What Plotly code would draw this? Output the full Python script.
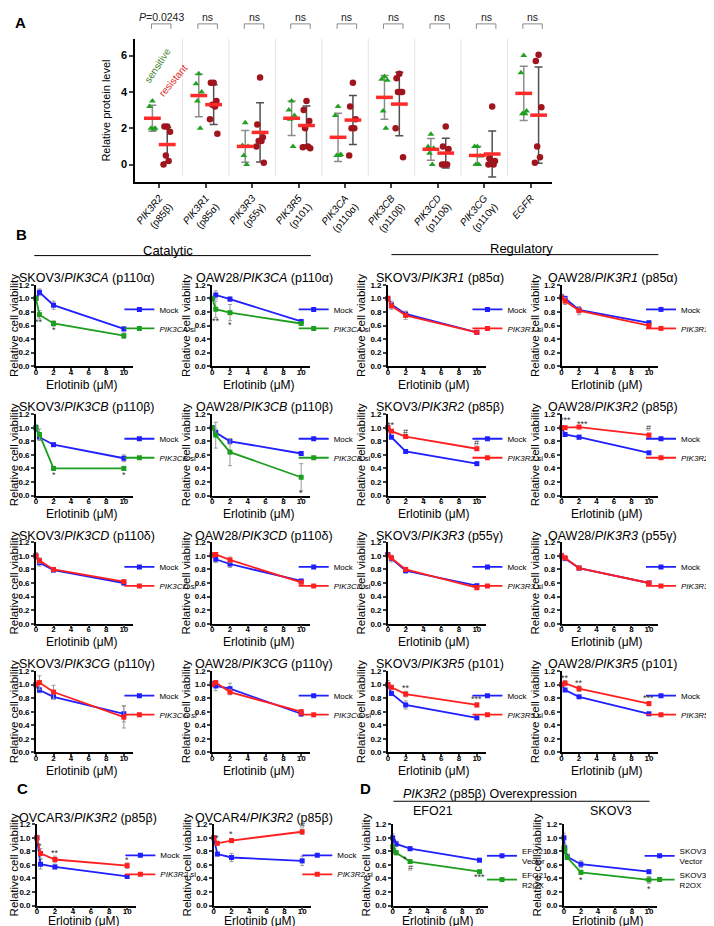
import plotly.graph_objects as go

FONT = "Liberation Sans, Arial, sans-serif"
W, H = 714, 926

# ---------------- Panel A data ----------------
a_genes = ["PIK3R2", "PIK3R1", "PIK3R3", "PIK3R5", "PIK3CA", "PIK3CB", "PIK3CD", "PIK3CG", "EGFR"]
a_proteins = ["p85β", "p85α", "p55γ", "p101", "p110α", "p110β", "p110δ", "p110γ", ""]
a_sens_points = [
    [3.5, 3.2, 2.0, 2.0, 1.95],
    [5.0, 4.45, 4.0, 3.5, 2.0],
    [2.3, 1.05, 1.0, 0.5, 0.0],
    [3.5, 3.0, 2.7, 2.5, 1.0],
    [3.2, 2.7, 0.55, 0.5, 0.5],
    [4.85, 4.7, 4.65, 2.95, 2.0],
    [1.67, 0.98, 0.9, 0.62, 0.0],
    [1.0, 1.0, 0.47, 0.0, 0.0],
    [6.0, 5.05, 2.95, 2.8, 2.8],
]
a_res_points = [
    [2.1, 2.1, 1.8, 0.5, 0.2, 0.0],
    [4.5, 4.5, 3.5, 3.3, 3.2, 2.5, 1.7],
    [4.8, 2.2, 1.5, 1.3, 1.3, 1.0, 0.1],
    [3.5, 3.0, 2.4, 2.0, 1.0, 0.95, 0.9],
    [4.5, 3.2, 2.5, 2.0, 2.0, 0.5],
    [5.0, 4.75, 4.0, 4.0, 4.0, 2.0, 0.4],
    [2.1, 1.0, 0.85, 0.0, 0.0, 0.0],
    [3.2, 0.35, 0.2, 0.05, 0.0, 0.0],
    [6.05, 5.7, 3.15, 1.0, 0.4, 0.1],
]
a_sens_mean = [2.55, 3.8, 1.0, 2.55, 1.5, 3.7, 0.84, 0.5, 3.92]
a_sens_sd = [0.71, 1.17, 0.87, 0.95, 1.33, 1.2, 0.6, 0.5, 1.5]
a_res_mean = [1.1, 3.3, 1.77, 2.15, 2.45, 3.33, 0.63, 0.58, 2.72]
a_res_sd = [0.95, 1.1, 1.63, 1.07, 1.35, 1.75, 0.82, 1.27, 2.65]
a_pvals = ["<i>P</i>=0.0243", "ns", "ns", "ns", "ns", "ns", "ns", "ns", "ns"]

# ---------------- Panels B / C / D data ----------------
doses = [0, 0.4, 2, 10]
doses_oe = [0, 0.1, 0.4, 2, 10]

kd_titles = [
    "SKOV3/<i>PIK3CA</i> (p110α)", "OAW28/<i>PIK3CA</i> (p110α)", "SKOV3/<i>PIK3R1</i> (p85α)", "OAW28/<i>PIK3R1</i> (p85α)",
    "SKOV3/<i>PIK3CB</i> (p110β)", "OAW28/<i>PIK3CB</i> (p110β)", "SKOV3/<i>PIK3R2</i> (p85β)", "OAW28/<i>PIK3R2</i> (p85β)",
    "SKOV3/<i>PIK3CD</i> (p110δ)", "OAW28/<i>PIK3CD</i> (p110δ)", "SKOV3/<i>PIK3R3</i> (p55γ)", "OAW28/<i>PIK3R3</i> (p55γ)",
    "SKOV3/<i>PIK3CG</i> (p110γ)", "OAW28/<i>PIK3CG</i> (p110γ)", "SKOV3/<i>PIK3R5</i> (p101)", "OAW28/<i>PIK3R5</i> (p101)",
    "OVCAR3/<i>PIK3R2</i> (p85β)", "OVCAR4/<i>PIK3R2</i> (p85β)",
]
kd_si_names = [
    "<i>PIK3CA</i> si", "<i>PIK3CA</i> si", "<i>PIK3R1</i> si", "<i>PIK3R1</i> si",
    "<i>PIK3CB</i> si", "<i>PIK3CB</i> si", "<i>PIK3R2</i> si", "<i>PIK3R2</i> si",
    "<i>PIK3CD si</i>", "<i>PIK3CD</i> si", "<i>PIK3R3</i> si", "<i>PIK3R3</i> si",
    "<i>PIK3CG si</i>", "<i>PIK3CG</i> si", "<i>PIK3R5</i> si", "<i>PIK3R5</i> si",
    "<i>PIK3R2</i> si", "<i>PIK3R2</i> si",
]
kd_si_kind = ["g", "g", "r", "r", "g", "g", "r", "r", "r", "r", "r", "r", "r", "r", "r", "r", "r", "r"]
kd_mock = [
    [1.0, 1.09, 0.90, 0.55], [1.0, 1.05, 0.99, 0.66], [1.0, 0.91, 0.77, 0.50], [1.02, 1.0, 0.83, 0.64],
    [1.0, 0.86, 0.75, 0.55], [1.0, 0.93, 0.80, 0.62], [1.0, 0.86, 0.65, 0.47], [1.0, 0.90, 0.86, 0.63],
    [1.0, 0.90, 0.79, 0.60], [1.01, 0.95, 0.88, 0.63], [1.02, 0.96, 0.78, 0.56], [1.0, 0.96, 0.82, 0.60],
    [1.0, 0.92, 0.82, 0.57], [1.01, 0.98, 0.94, 0.57], [1.0, 0.87, 0.70, 0.51], [1.0, 0.92, 0.82, 0.57],
    [1.0, 0.61, 0.57, 0.43], [1.0, 0.76, 0.71, 0.66],
]
kd_mock_err = [
    [0.02, 0.05, 0.06, 0.03], [0.02, 0.06, 0.03, 0.02], [0.03, 0.05, 0.04, 0.02], [0.04, 0.03, 0.04, 0.03],
    [0.05, 0.05, 0.01, 0.05], [0.02, 0.05, 0.04, 0.03], [0.02, 0.02, 0.01, 0.01], [0.02, 0.02, 0.03, 0.01],
    [0.05, 0.05, 0.02, 0.03], [0.04, 0.05, 0.05, 0.01], [0.03, 0.05, 0.03, 0.02], [0.04, 0.03, 0.01, 0.01],
    [0.05, 0.04, 0.03, 0.12], [0.04, 0.07, 0.08, 0.04], [0.06, 0.03, 0.06, 0.01], [0.02, 0.01, 0.01, 0.01],
    [0.04, 0.07, 0.03, 0.02], [0.03, 0.02, 0.06, 0.07],
]
kd_si = [
    [1.0, 0.76, 0.63, 0.45], [1.0, 0.84, 0.79, 0.63], [1.0, 0.89, 0.75, 0.50], [1.01, 0.96, 0.82, 0.60],
    [1.0, 0.90, 0.40, 0.40], [1.0, 0.89, 0.64, 0.27], [1.0, 0.95, 0.87, 0.69], [1.0, 1.0, 1.01, 0.89],
    [1.0, 0.93, 0.80, 0.62], [1.01, 1.02, 0.94, 0.61], [1.01, 0.97, 0.80, 0.53], [1.0, 0.97, 0.82, 0.60],
    [1.0, 1.03, 0.89, 0.52], [1.0, 1.03, 0.89, 0.60], [1.0, 0.96, 0.86, 0.70], [1.0, 1.02, 0.94, 0.72],
    [1.0, 0.77, 0.68, 0.59], [1.0, 0.92, 0.96, 1.09],
]
kd_si_err = [
    [0.02, 0.06, 0.04, 0.04], [0.02, 0.12, 0.12, 0.02], [0.03, 0.05, 0.06, 0.02], [0.03, 0.05, 0.06, 0.03],
    [0.02, 0.08, 0.01, 0.01], [0.02, 0.19, 0.20, 0.20], [0.02, 0.02, 0.02, 0.02], [0.02, 0.02, 0.01, 0.03],
    [0.03, 0.04, 0.02, 0.02], [0.03, 0.03, 0.04, 0.01], [0.03, 0.03, 0.02, 0.02], [0.03, 0.03, 0.01, 0.01],
    [0.03, 0.10, 0.10, 0.16], [0.03, 0.03, 0.04, 0.03], [0.03, 0.03, 0.04, 0.03], [0.02, 0.04, 0.04, 0.03],
    [0.03, 0.07, 0.05, 0.04], [0.03, 0.02, 0.03, 0.04],
]
kd_sig = [
    [(0.4, 0.65, "**"), (2, 0.53, "*")], [(0.4, 0.66, "**"), (2, 0.61, "*")], [], [],
    [(2, 0.31, "*"), (10, 0.31, "*")], [(10, 0.04, "*")],
    [(0.4, 1.04, "**"), (2, 0.93, "#"), (10, 0.77, "#")], [(0.4, 1.11, "***"), (2.4, 1.06, "***"), (10, 1.0, "#")],
    [], [], [], [],
    [], [], [(2, 0.95, "**"), (10, 0.79, "***")], [(0.4, 1.1, "**"), (2, 1.02, "**"), (10, 0.8, "***")],
    [(0.4, 0.88, "*"), (2, 0.77, "**"), (10, 0.67, "*")], [(0.4, 1.0, "*"), (2, 1.05, "*"), (10, 1.19, "#")],
]

oe_titles = ["EFO21", "SKOV3"]
oe_vec_names = ["EFO21<br>Vector", "SKOV3<br>Vector"]
oe_ox_names = ["EFO21<br>R2OX", "SKOV3<br>R2OX"]
oe_vector = [[1.0, 0.94, 0.91, 0.84, 0.67], [1.0, 0.85, 0.72, 0.61, 0.50]]
oe_vector_err = [[0.06, 0.04, 0.04, 0.03, 0.02], [0.07, 0.05, 0.04, 0.05, 0.01]]
oe_r2ox = [[0.87, 0.81, 0.78, 0.65, 0.50], [0.85, 0.80, 0.71, 0.49, 0.38]]
oe_r2ox_err = [[0.05, 0.04, 0.03, 0.02, 0.01], [0.05, 0.04, 0.03, 0.03, 0.05]]
oe_sig = [[(1.4, 0.69, "*"), (2, 0.55, "#"), (10, 0.42, "***")], [(2, 0.37, "*"), (10, 0.24, "*")]]

# ---------------- styling ----------------
BLUE = "#1f1fff"
RED = "#ff1f1f"
GREEN = "#1e9e1e"
ERRC = "#9a9a9a"


def fx(p):
    return p / W


def fy(p):
    return 1 - p / H


fig = go.Figure()
layout = {}
annotations = []
shapes = []


def ann_px(px, py, text, size=12, color="black", bold=False, angle=0, xanchor="center", yanchor="middle"):
    annotations.append(dict(x=fx(px), y=fy(py), xref="paper", yref="paper", text=("<b>%s</b>" % text) if bold else text,
                            showarrow=False, textangle=angle, xanchor=xanchor, yanchor=yanchor,
                            font=dict(size=size, color=color, family=FONT)))


# ---------------- Panel A ----------------
JIT = [0.0, -0.06, 0.06, -0.03, 0.03, -0.08, 0.08]
OFF_S, OFF_R = -0.15, 0.17
layout["xaxis"] = dict(domain=[fx(129), fx(558)], range=[-0.52, 8.45], anchor="y",
                       tickvals=list(range(len(a_genes))),
                       ticktext=[("<i>%s</i><br>(%s)" % (g, p)) if p else "<i>%s</i>" % g for g, p in zip(a_genes, a_proteins)],
                       tickangle=-50, ticks="outside", ticklen=4, tickwidth=2, showline=True, linewidth=2,
                       linecolor="black", showgrid=False, zeroline=False, tickfont=dict(size=10, family=FONT))
layout["yaxis"] = dict(domain=[fy(172), fy(27)], range=[-0.98, 6.93], anchor="x", tickvals=[0, 2, 4, 6],
                       ticks="outside", ticklen=4, tickwidth=2, showline=True, linewidth=2, linecolor="black",
                       showgrid=False, zeroline=False, tickfont=dict(size=11, family=FONT, weight="bold"),
                       title=dict(text="Relative protein level", font=dict(size=11, family=FONT), standoff=8))

for i in range(len(a_genes)):
    if i > 0:
        shapes.append(dict(type="line", xref="x", yref="y", x0=i - 0.5, x1=i - 0.5, y0=-0.6, y1=6.93,
                           line=dict(color="#e2e2e2", width=1)))
    shapes.append(dict(type="path", xref="x", yref="paper",
                       path="M %f,%f L %f,%f L %f,%f L %f,%f" % (i - 0.17, fy(17), i - 0.17, fy(12), i + 0.25, fy(12), i + 0.25, fy(17)),
                       line=dict(color="#8a8a8a", width=1)))
    annotations.append(dict(x=i + 0.04, y=fy(5), xref="x", yref="paper", text=a_pvals[i], showarrow=False,
                            xanchor="center", yanchor="middle",
                            font=dict(size=10.5, family=FONT, color="#222")))

sx, sy, rx, ry = [], [], [], []
for i in range(len(a_genes)):
    for j, v in enumerate(a_sens_points[i]):
        sx.append(i + OFF_S + JIT[j % len(JIT)])
        sy.append(v)
    for j, v in enumerate(a_res_points[i]):
        rx.append(i + OFF_R + JIT[j % len(JIT)])
        ry.append(v)
xs_m = [i + OFF_S for i in range(len(a_genes))]
xr_m = [i + OFF_R for i in range(len(a_genes))]
fig.add_trace(go.Scatter(x=xs_m, y=a_sens_mean, mode="markers", marker=dict(size=1, color="rgba(0,0,0,0)"),
                         error_y=dict(type="data", array=a_sens_sd, color="#8c8c8c", thickness=1.5, width=4),
                         showlegend=False, xaxis="x", yaxis="y"))
fig.add_trace(go.Scatter(x=xr_m, y=a_res_mean, mode="markers", marker=dict(size=1, color="rgba(0,0,0,0)"),
                         error_y=dict(type="data", array=a_res_sd, color="#505050", thickness=1.5, width=4),
                         showlegend=False, xaxis="x", yaxis="y"))
fig.add_trace(go.Scatter(x=sx, y=sy, mode="markers", marker=dict(symbol="triangle-up", size=6, color="#22a022"),
                         showlegend=False, xaxis="x", yaxis="y", cliponaxis=False))
fig.add_trace(go.Scatter(x=rx, y=ry, mode="markers", marker=dict(symbol="circle", size=6.5, color="#a0141e"),
                         showlegend=False, xaxis="x", yaxis="y", cliponaxis=False))
for xm, ym in ((xs_m, a_sens_mean), (xr_m, a_res_mean)):
    fig.add_trace(go.Scatter(x=xm, y=ym, mode="markers",
                             marker=dict(symbol="line-ew", size=12, line=dict(width=3.5, color="#ff2a2a")),
                             showlegend=False, xaxis="x", yaxis="y", cliponaxis=False))

ann_px(152, 54, "sensitive", size=10, color="#3f7f2f", angle=-57)
ann_px(168, 69, "resistant", size=10, color="#e02828", angle=-50)

# ---------------- line panels ----------------
axis_no = [1]
legend_no = [0]


def line_panel(x0, sc, y0, y12, xv, series, title, title_dx, title_cy, sig, leg_dx, leg_topy, xt_dy):
    axis_no[0] += 1
    n = axis_no[0]
    legend_no[0] += 1
    ln = "legend" if legend_no[0] == 1 else "legend%d" % legend_no[0]
    xa, ya = "x%d" % n, "y%d" % n
    x1 = x0 + 11 * sc
    layout["xaxis%d" % n] = dict(domain=[fx(x0), fx(x1)], range=[0, 11], anchor=ya, tickvals=[0, 2, 4, 6, 8, 10],
                                 ticks="outside", ticklen=3, tickwidth=1.5, showline=True, linewidth=1.5,
                                 linecolor="black", showgrid=False, zeroline=False, ticklabelstandoff=-6,
                                 tickfont=dict(size=8, family=FONT, weight="bold"))
    layout["yaxis%d" % n] = dict(domain=[fy(y0), fy(y12)], range=[0, 1.2], anchor=xa,
                                 tickvals=[0, 0.2, 0.4, 0.6, 0.8, 1.0, 1.2], tickformat=".1f",
                                 ticks="outside", ticklen=3, tickwidth=1.5, showline=True, linewidth=1.5,
                                 linecolor="black", showgrid=False, zeroline=False,
                                 tickfont=dict(size=8, family=FONT, weight="bold"),
                                 title=dict(text="Relative cell viability", font=dict(size=11.5, family=FONT), standoff=2))
    annotations.append(dict(x=fx((x0 + x0 + 10 * sc) / 2 + 2), y=fy(y0 + xt_dy), xref="paper", yref="paper",
                            xanchor="center", yanchor="middle", text="Erlotinib (μM)", showarrow=False,
                            font=dict(size=12, family=FONT)))
    for name, vals, err, color in series:
        fig.add_trace(go.Scatter(x=xv, y=vals, mode="lines+markers", name=name,
                                 line=dict(color=color, width=1.8), marker=dict(symbol="square", size=5, color=color),
                                 error_y=dict(type="data", array=err, color=ERRC, thickness=1, width=2),
                                 xaxis=xa, yaxis=ya, legend=ln, cliponaxis=False))
    layout[ln] = dict(x=fx(x0 + leg_dx), y=fy(leg_topy), xanchor="left", yanchor="top",
                      bgcolor="rgba(0,0,0,0)", font=dict(size=8, family=FONT), itemwidth=30,
                      tracegroupgap=0, traceorder="normal")
    annotations.append(dict(x=fx((x0 + x1) / 2 + title_dx), y=fy(title_cy), xref="paper", yref="paper",
                            xanchor="center", yanchor="middle",
                            text=title, showarrow=False, font=dict(size=12.5, family=FONT)))
    for d, yv, t in sig:
        annotations.append(dict(x=d, y=yv, xref=xa, yref=ya, text=t, showarrow=False,
                                xanchor="center", yanchor="middle",
                                font=dict(size=9, family=FONT, color="#333")))


col_x0 = [26.7, 208.3, 389.3, 568.3]
col_sc = [9.06, 9.17, 9.17, 9.0]
col_legdx = [86, 84, 82, 82]
row_y0 = [357.7, 488.3, 617.7, 747.7]
B_H = 82.2

for k in range(16):
    r, c = divmod(k, 4)
    sc_color = GREEN if kd_si_kind[k] == "g" else RED
    y0 = row_y0[r]
    line_panel(col_x0[c], col_sc[c], y0, y0 - B_H, doses,
               [("Mock", kd_mock[k], kd_mock_err[k], BLUE), (kd_si_names[k], kd_si[k], kd_si_err[k], sc_color)],
               kd_titles[k], 3, y0 - 89, kd_sig[k], col_legdx[c], y0 - 72, 18.5)

# Panel C
c_x0 = [27.7, 210.0]
c_sc = [9.3, 9.1]
CD_Y0, CD_Y12 = 902.3, 820.3
for m in range(2):
    k = 16 + m
    line_panel(c_x0[m], c_sc[m], CD_Y0, CD_Y12, doses,
               [("Mock", kd_mock[k], kd_mock_err[k], BLUE), (kd_si_names[k], kd_si[k], kd_si_err[k], RED)],
               kd_titles[k], 2, 814, kd_sig[k], 86, 837, 15.5)

# Panel D
d_x0 = [394.3, 570.7]
d_sc = [8.94, 8.76]
d_tdx = [-8, 0]
d_legdx = [92, 78]
for m in range(2):
    line_panel(d_x0[m], d_sc[m], CD_Y0, CD_Y12, doses_oe,
               [(oe_vec_names[m], oe_vector[m], oe_vector_err[m], BLUE), (oe_ox_names[m], oe_r2ox[m], oe_r2ox_err[m], GREEN)],
               oe_titles[m], d_tdx[m], 807, oe_sig[m], d_legdx[m], 835, 15.5)

# ---------------- headers and panel letters ----------------
ann_px(163, 240.5, "Catalytic", size=13)
shapes.append(dict(type="line", xref="paper", yref="paper", x0=fx(25), x1=fx(310), y0=fy(246), y1=fy(246),
                   line=dict(color="black", width=1)))
ann_px(527, 239, "Regulatory", size=13)
shapes.append(dict(type="line", xref="paper", yref="paper", x0=fx(393), x1=fx(668), y0=fy(245), y1=fy(245),
                   line=dict(color="black", width=1)))
ann_px(495, 790, "<i>PIK3R2</i> (p85β) Overexpression", size=12.5)
shapes.append(dict(type="line", xref="paper", yref="paper", x0=fx(395), x1=fx(659), y0=fy(797), y1=fy(797),
                   line=dict(color="black", width=1)))

ann_px(11, 11, "A", size=15, bold=True)
ann_px(12, 225, "B", size=15, bold=True)
ann_px(13, 784, "C", size=15, bold=True)
ann_px(366, 784, "D", size=15, bold=True)

layout.update(dict(width=W, height=H, margin=dict(l=0, r=0, t=0, b=0), paper_bgcolor="white",
                   plot_bgcolor="white", font=dict(family=FONT, color="black"),
                   annotations=annotations, shapes=shapes))
fig.update_layout(**layout)
fig.write_html("out.html")
